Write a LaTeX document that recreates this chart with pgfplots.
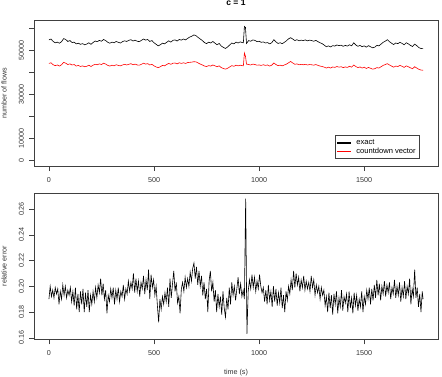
\documentclass[border=0pt]{standalone}
\usepackage{fontspec}
\setmainfont{Liberation Sans}
\usepackage{pgfplots}
\pgfplotsset{compat=1.18}
\definecolor{rred}{RGB}{255,0,0}
\begin{document}
\fontsize{7.2}{8.6}\selectfont
\begin{tikzpicture}
\path[use as bounding box] (0bp,0bp) rectangle (442bp,-377bp);
\pgfplotsset{
 rstyle/.style={
  scale only axis, width=404bp, height=146bp,
  axis line style={black!75, line width=0.5pt},
  tick style={black!75, line width=0.5pt},
  tick align=outside, major tick length=5bp,
  xtick pos=left, ytick pos=left,
  xmin=-71, xmax=1851,
  xtick={0,500,1000,1500},
  xticklabels={0,500,1000,1500},
  scaled y ticks=false,
  ticklabel style={font=\fontsize{7.2}{8.6}\selectfont, text=black!80},
  yticklabel style={xshift=-2.5bp, rotate=90, anchor=south},
  xticklabel style={yshift=-4bp, anchor=north},
  legend cell align=left,
 }
}
% ---------- top panel ----------
\begin{axis}[rstyle, at={(34bp,-166bp)}, anchor=south west,
  ymin=-2460, ymax=63960,
  ytick={0,10000,20000,30000,40000,50000,60000},
  yticklabels={0,10000,,30000,,50000,},
  legend style={name=leg, at={(0.954,0.053)}, anchor=south east, draw=none, fill=white,
    font=\fontsize{7.6}{9}\selectfont, inner xsep=1.5bp, inner ysep=2.5bp, row sep=0.6bp,
    column sep=4bp, nodes={inner xsep=2bp, inner ysep=1bp}},
]
\addplot[color=black, line width=0.6pt,
  legend image code/.code={\fill[black] (0bp,-0.4bp) rectangle (13bp,0.4bp);}] coordinates {
(0,54900)(10,55300)(20,54200)(30,53600)(40,53900)(50,53400)(60,54100)(70,55500)(80,55100)(90,54200)
(100,54600)(110,53700)(120,53900)(130,53100)(140,53400)(150,52900)(160,53200)(170,52700)(180,53000)(190,53600)
(200,52900)(210,53700)(220,54400)(230,54100)(240,54700)(250,54300)(260,55100)(270,54600)(280,53800)(290,53400)
(300,53900)(310,53600)(320,54200)(330,53800)(340,53500)(350,54100)(360,54500)(370,54200)(380,54700)(390,55000)
(400,54400)(410,54800)(420,54300)(430,54100)(440,54700)(450,55300)(460,54800)(470,55100)(480,54200)(490,54600)
(500,53600)(510,52900)(520,52200)(530,52700)(540,53400)(550,53100)(560,53800)(570,54500)(580,53900)(590,54700)
(600,54900)(610,54400)(620,55100)(630,54800)(640,55300)(650,54900)(660,55600)(670,56200)(680,56600)(690,57200)
(700,56800)(710,56000)(720,55300)(730,54600)(740,53700)(750,53200)(760,53900)(770,53500)(780,54200)(790,53400)
(800,52700)(810,53300)(820,52100)(830,51500)(840,51000)(850,51700)(860,52600)(870,53500)(880,53100)(890,53900)
(900,53500)(910,54000)(920,53700)(925,53600)(930,61000)(935,60600)(940,53300)(950,54600)(960,54300)(970,54900)
(980,54700)(990,54100)(1000,54300)(1010,53800)(1020,54000)(1030,53500)(1040,53700)(1050,53100)(1060,53600)(1070,55000)
(1080,54000)(1090,53300)(1100,53600)(1110,53200)(1120,53800)(1130,54500)(1140,55400)(1150,55900)(1160,55300)(1170,54600)
(1180,55000)(1190,54500)(1200,54800)(1210,54600)(1220,54900)(1230,54500)(1240,54800)(1250,54600)(1260,54300)(1270,54700)
(1280,54100)(1290,53600)(1300,53200)(1310,52500)(1320,51800)(1330,52200)(1340,51700)(1350,52300)(1360,52100)(1370,52600)
(1380,52300)(1390,52500)(1400,52000)(1410,52400)(1420,52100)(1430,52700)(1440,52200)(1450,53600)(1460,52600)(1470,52000)
(1480,52400)(1490,51800)(1500,52200)(1510,51600)(1520,52300)(1530,51800)(1540,51300)(1550,51600)(1560,52400)(1570,52200)
(1580,53000)(1590,53800)(1600,54300)(1610,55000)(1620,54100)(1630,53400)(1640,52800)(1650,53500)(1660,53200)(1670,53800)
(1680,53300)(1690,52700)(1700,53600)(1710,53100)(1720,52400)(1730,51900)(1740,53000)(1750,52300)(1760,51400)(1770,51000)
(1780,50900)
};
\addlegendentry{exact}
\addplot[color=rred, line width=0.6pt,
  legend image code/.code={\fill[rred] (0bp,-0.45bp) rectangle (13bp,0.45bp);}] coordinates {
(0,44200)(10,44500)(20,43600)(30,43200)(40,43500)(50,43000)(60,43600)(70,44700)(80,44300)(90,43700)
(100,44000)(110,43500)(120,43700)(130,43000)(140,43300)(150,42800)(160,43100)(170,42700)(180,42900)(190,43400)
(200,42800)(210,43400)(220,43800)(230,43600)(240,44000)(250,43700)(260,44300)(270,43900)(280,43300)(290,43000)
(300,43400)(310,43100)(320,43600)(330,43300)(340,43100)(350,43500)(360,43800)(370,43500)(380,43800)(390,44100)
(400,43600)(410,43900)(420,43500)(430,43400)(440,43800)(450,44300)(460,43900)(470,44100)(480,43500)(490,43800)
(500,43100)(510,42600)(520,42300)(530,42700)(540,43300)(550,43100)(560,43700)(570,44200)(580,43800)(590,44300)
(600,44400)(610,44000)(620,44500)(630,44200)(640,44500)(650,44200)(660,44600)(670,44700)(680,44800)(690,45000)
(700,44900)(710,44400)(720,43900)(730,43500)(740,43000)(750,42800)(760,43200)(770,43000)(780,43500)(790,43100)
(800,42700)(810,43100)(820,42300)(830,41900)(840,41600)(850,42000)(860,42600)(870,43200)(880,42900)(890,43400)
(900,43100)(910,43400)(920,43200)(925,43100)(930,48900)(935,47500)(940,43900)(950,43700)(960,43500)(970,43900)
(980,43700)(990,43400)(1000,43500)(1010,43300)(1020,43600)(1030,43300)(1040,43500)(1050,43000)(1060,43400)(1070,44400)
(1080,43700)(1090,43200)(1100,43400)(1110,43100)(1120,43500)(1130,43900)(1140,44500)(1150,45100)(1160,44400)(1170,43800)
(1180,44000)(1190,43600)(1200,43800)(1210,43600)(1220,43800)(1230,43500)(1240,43700)(1250,43600)(1260,43400)(1270,43700)
(1280,43300)(1290,43000)(1300,42800)(1310,42500)(1320,42100)(1330,42500)(1340,42100)(1350,42600)(1360,42400)(1370,42800)
(1380,42500)(1390,42700)(1400,42300)(1410,42600)(1420,42400)(1430,42900)(1440,42500)(1450,43500)(1460,42800)(1470,42300)
(1480,42600)(1490,42100)(1500,42500)(1510,41900)(1520,42400)(1530,42000)(1540,41600)(1550,41800)(1560,42300)(1570,42100)
(1580,42700)(1590,43300)(1600,43700)(1610,44100)(1620,43500)(1630,43000)(1640,42500)(1650,43000)(1660,42800)(1670,43300)
(1680,42900)(1690,42400)(1700,43100)(1710,42700)(1720,42200)(1730,41800)(1740,42700)(1750,42100)(1760,41500)(1770,41200)
(1780,41100)
};
\addlegendentry{countdown vector}
\end{axis}
\draw[black!75, line width=0.5pt] (leg.south west) rectangle (leg.north east);
% ---------- bottom panel ----------
\begin{axis}[rstyle, at={(34bp,-339.3bp)}, anchor=south west,
  ymin=0.1588, ymax=0.2722,
  ytick={0.16,0.18,0.20,0.22,0.24,0.26},
  yticklabels={0.16,0.18,0.20,0.22,0.24,0.26},
]
\addplot[black, line width=0.6pt] coordinates {
(0,0.190)(6,0.200)(12,0.192)(18,0.197)(24,0.191)(30,0.199)(36,0.194)(42,0.198)(48,0.186)(54,0.196)
(60,0.190)(66,0.201)(72,0.193)(78,0.200)(84,0.191)(90,0.197)(96,0.193)(102,0.199)(108,0.188)(114,0.196)
(120,0.185)(126,0.199)(132,0.182)(138,0.194)(144,0.180)(150,0.196)(156,0.186)(162,0.198)(168,0.180)(174,0.195)
(180,0.184)(186,0.197)(192,0.180)(198,0.193)(204,0.186)(210,0.196)(216,0.188)(222,0.199)(228,0.191)(234,0.201)
(240,0.195)(246,0.206)(252,0.193)(258,0.202)(264,0.190)(270,0.197)(276,0.179)(282,0.193)(288,0.188)(294,0.198)
(300,0.191)(306,0.199)(312,0.186)(318,0.197)(324,0.190)(330,0.199)(336,0.188)(342,0.196)(348,0.192)(354,0.201)
(360,0.190)(366,0.198)(372,0.194)(378,0.204)(384,0.196)(390,0.203)(396,0.198)(402,0.210)(408,0.195)(414,0.206)
(420,0.196)(426,0.204)(432,0.192)(438,0.203)(444,0.198)(450,0.208)(456,0.194)(462,0.205)(468,0.197)(474,0.213)
(480,0.190)(486,0.209)(492,0.199)(498,0.205)(504,0.193)(510,0.200)(516,0.185)(522,0.172)(528,0.190)(534,0.182)
(540,0.192)(546,0.186)(552,0.195)(558,0.188)(564,0.199)(570,0.184)(576,0.206)(582,0.191)(588,0.202)(594,0.212)
(600,0.196)(606,0.203)(612,0.187)(618,0.192)(624,0.179)(630,0.198)(636,0.203)(642,0.196)(648,0.207)(654,0.199)
(660,0.206)(666,0.200)(672,0.211)(678,0.204)(684,0.214)(690,0.218)(696,0.206)(702,0.215)(708,0.201)(714,0.212)
(720,0.200)(726,0.208)(732,0.193)(738,0.203)(744,0.190)(750,0.198)(756,0.180)(762,0.204)(768,0.212)(774,0.196)
(780,0.203)(786,0.188)(792,0.197)(798,0.180)(804,0.194)(810,0.184)(816,0.192)(822,0.178)(828,0.196)(834,0.183)
(840,0.176)(846,0.191)(852,0.182)(858,0.199)(864,0.186)(870,0.203)(876,0.193)(882,0.200)(888,0.189)(894,0.198)
(900,0.207)(906,0.194)(912,0.202)(918,0.192)(924,0.197)(930,0.190)(936,0.268)(942,0.163)(948,0.196)(954,0.205)
(960,0.198)(966,0.209)(972,0.199)(978,0.207)(984,0.196)(990,0.204)(996,0.198)(1002,0.209)(1008,0.200)(1014,0.195)
(1020,0.199)(1026,0.188)(1032,0.197)(1038,0.186)(1044,0.201)(1050,0.189)(1056,0.196)(1062,0.184)(1068,0.200)(1074,0.188)
(1080,0.198)(1086,0.185)(1092,0.195)(1098,0.187)(1104,0.199)(1110,0.183)(1116,0.193)(1122,0.180)(1128,0.196)(1134,0.189)
(1140,0.200)(1146,0.194)(1152,0.205)(1158,0.197)(1164,0.212)(1170,0.199)(1176,0.210)(1182,0.201)(1188,0.207)(1194,0.196)
(1200,0.205)(1206,0.199)(1212,0.208)(1218,0.197)(1224,0.204)(1230,0.198)(1236,0.203)(1242,0.196)(1248,0.208)(1254,0.199)
(1260,0.205)(1266,0.193)(1272,0.201)(1278,0.195)(1284,0.200)(1290,0.190)(1296,0.199)(1302,0.193)(1308,0.197)(1314,0.185)
(1320,0.192)(1326,0.180)(1332,0.195)(1338,0.183)(1344,0.193)(1350,0.178)(1356,0.194)(1362,0.186)(1368,0.196)(1374,0.179)
(1380,0.191)(1386,0.184)(1392,0.197)(1398,0.181)(1404,0.192)(1410,0.187)(1416,0.194)(1422,0.180)(1428,0.196)(1434,0.183)
(1440,0.191)(1446,0.179)(1452,0.195)(1458,0.185)(1464,0.193)(1470,0.181)(1476,0.190)(1482,0.184)(1488,0.196)(1494,0.180)
(1500,0.192)(1506,0.186)(1512,0.197)(1518,0.190)(1524,0.199)(1530,0.186)(1536,0.198)(1542,0.189)(1548,0.201)(1554,0.191)
(1560,0.205)(1566,0.193)(1572,0.202)(1578,0.189)(1584,0.200)(1590,0.194)(1596,0.204)(1602,0.192)(1608,0.201)(1614,0.195)
(1620,0.203)(1626,0.190)(1632,0.199)(1638,0.194)(1644,0.205)(1650,0.191)(1656,0.200)(1662,0.193)(1668,0.203)(1674,0.188)
(1680,0.199)(1686,0.192)(1692,0.204)(1698,0.190)(1704,0.200)(1710,0.194)(1716,0.206)(1722,0.186)(1728,0.198)(1734,0.192)
(1740,0.213)(1746,0.191)(1752,0.199)(1758,0.184)(1764,0.194)(1770,0.180)(1776,0.196)(1780,0.190)
};
\end{axis}
\node[font=\bfseries\fontsize{8.6}{10}\selectfont, anchor=center] at (236bp,-3bp) {c = 1};
\node[rotate=90, text=black!80] at (4bp,-93bp) {number of flows};
\node[rotate=90, text=black!80] at (4bp,-266bp) {relative error};
\node[text=black!80] at (236bp,-372.5bp) {time (s)};
\end{tikzpicture}
\end{document}
